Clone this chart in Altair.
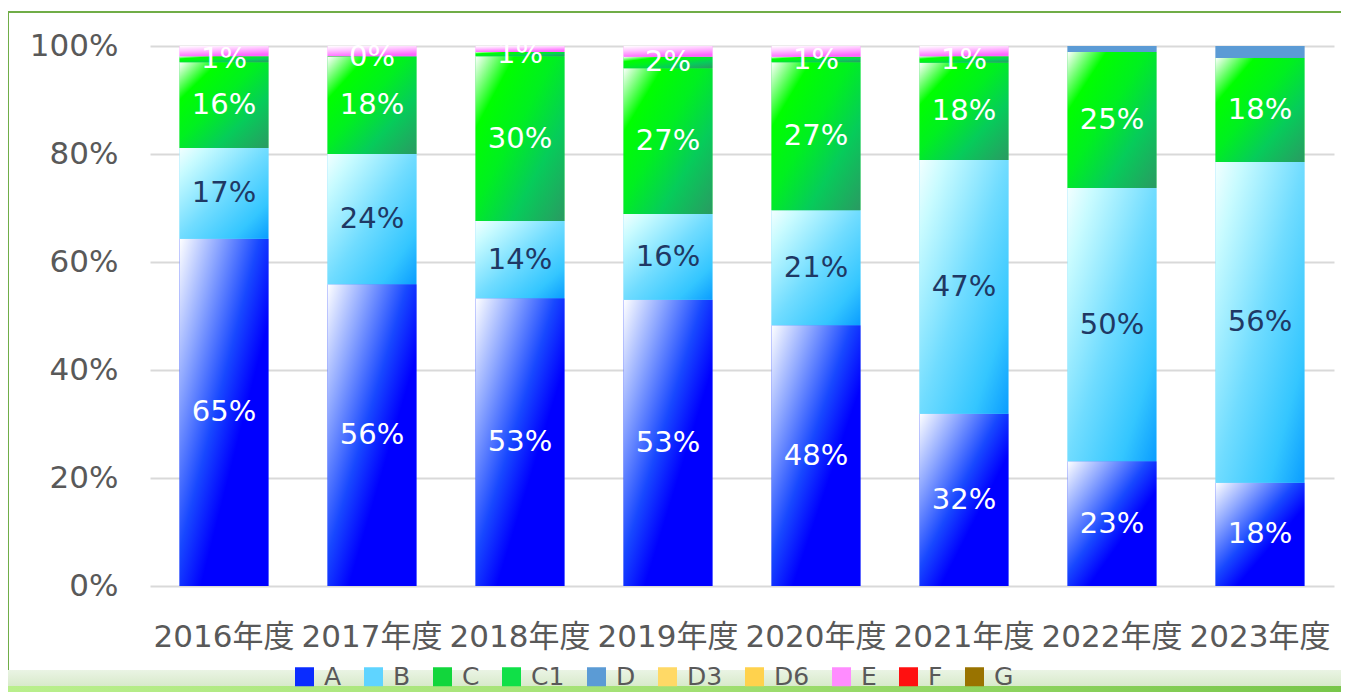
import altair as alt
import pandas as pd

years = ["2016年度", "2017年度", "2018年度", "2019年度", "2020年度", "2021年度", "2022年度", "2023年度"]
series = ["A", "B", "C", "C1", "D", "D3", "D6", "E", "F", "G"]

val_A = [64.3, 55.9, 53.3, 53.0, 48.3, 31.9, 23.1, 19.1]
val_B = [16.8, 24.1, 14.3, 15.9, 21.3, 47.0, 50.6, 59.4]
val_C = [15.9, 18.0, 30.5, 27.0, 27.4, 18.0, 25.2, 19.3]
val_C1 = [1.1, 0.1, 0.8, 2.1, 1.0, 1.2, 0.0, 0.0]
val_D = [0.0, 0.0, 0.0, 0.0, 0.0, 0.0, 1.1, 2.2]
val_D3 = [0.0] * 8
val_D6 = [0.0] * 8
val_E = [1.9, 1.9, 1.1, 2.0, 2.0, 1.9, 0.0, 0.0]
val_F = [0.0] * 8
val_G = [0.0] * 8

lab_A = ["65%", "56%", "53%", "53%", "48%", "32%", "23%", "18%"]
lab_B = ["17%", "24%", "14%", "16%", "21%", "47%", "50%", "56%"]
lab_C = ["16%", "18%", "30%", "27%", "27%", "18%", "25%", "18%"]
lab_C1 = ["1%", "0%", "1%", "2%", "1%", "1%", "", ""]
empty = [""] * 8

values = [val_A, val_B, val_C, val_C1, val_D, val_D3, val_D6, val_E, val_F, val_G]
labels = [lab_A, lab_B, lab_C, lab_C1, empty, empty, empty, empty, empty, empty]

rows = []
for si, s in enumerate(series):
    for yi, yr in enumerate(years):
        rows.append({"year": yr, "series": s, "order": si,
                     "value": values[si][yi], "label": labels[si][yi]})
df = pd.DataFrame(rows)

FONT = "DejaVu Sans, 'Noto Sans CJK JP', sans-serif"
legend_colors = ["#0a2cff", "#5fd4ff", "#12d63c", "#10e048", "#5b9bd5",
                 "#ffd966", "#ffd24d", "#ff8cff", "#ff1010", "#997300"]


def grad(stops, x2=1, y2=1):
    return alt.Gradient(
        gradient="linear",
        stops=[alt.GradientStop(offset=o, color=c) for o, c in stops],
        x1=0, y1=0, x2=x2, y2=y2,
    )


gradients = {
    "A": grad([(0, "#ffffff"), (0.22, "#8fa8ff"), (0.45, "#1848ff"), (0.62, "#0000ff"), (1, "#0000ff")]),
    "B": grad([(0, "#f2ffff"), (0.15, "#c8fbff"), (0.5, "#70dcff"), (0.8, "#34c6ff"), (1, "#0a9cff")]),
    "C": grad([(0, "#ffffff"), (0.22, "#00ff00"), (0.45, "#00f020"), (0.7, "#06cc5a"), (1, "#2a9a62")]),
    "C1": grad([(0, "#ffffff"), (0.22, "#00ff00"), (0.45, "#00f020"), (0.7, "#06cc5a"), (1, "#2a9a62")]),
    "D": grad([(0, "#5b9bd5"), (1, "#5b9bd5")]),
    "E": grad([(0, "#ffffff"), (0.4, "#ffc8ff"), (1, "#ff66ff")], x2=0.3, y2=1),
}

x_enc = alt.X(
    "year:N", sort=years, title=None,
    scale=alt.Scale(paddingInner=0.4, paddingOuter=0.2),
    axis=alt.Axis(labelAngle=0, labelFontSize=31, labelFont=FONT, labelColor="#595959",
                  ticks=False, domain=False, labelPadding=36, grid=False),
)
y_axis = alt.Axis(values=[0, 0.2, 0.4, 0.6, 0.8, 1.0], format=".0%", labelFontSize=31,
                  labelFont=FONT, labelColor="#595959", ticks=False, domain=False,
                  labelPadding=32, gridColor="#d9d9d9", gridWidth=2, title=None)

base = alt.Chart(df).transform_stack(
    stack="value", groupby=["year"], as_=["y0", "y1"],
    sort=[alt.SortField("order", "ascending")], offset="normalize",
)

solid = base.mark_bar().encode(
    x=x_enc,
    y=alt.Y("y0:Q", scale=alt.Scale(domain=[0, 1]), axis=y_axis),
    y2="y1:Q",
    color=alt.Color(
        "series:N",
        scale=alt.Scale(domain=series, range=legend_colors),
        legend=alt.Legend(
            orient="none", legendX=142, legendY=618, direction="horizontal",
            title=None, symbolType="square", symbolSize=361, symbolStrokeWidth=0,
            symbolOpacity=1, labelFontSize=25, labelFont=FONT, labelColor="#595959",
            labelOffset=7, columnPadding=19, labelLimit=200, padding=0,
        ),
    ),
)

grad_layers = []
for s, g in gradients.items():
    grad_layers.append(
        base.transform_filter(alt.datum.series == s)
        .transform_filter(alt.datum.value > 0)
        .mark_bar(color=g)
        .encode(x=alt.X("year:N", sort=years), y="y0:Q", y2="y1:Q")
    )

text = (
    base.transform_filter(alt.datum.label != "")
    .transform_calculate(mid="(datum.y0 + datum.y1) / 2")
    .mark_text(fontSize=29, font=FONT, baseline="middle")
    .encode(
        x=alt.X("year:N", sort=years),
        y="mid:Q",
        text="label:N",
        color=alt.condition(alt.datum.series == "B", alt.value("#1f3864"), alt.value("#ffffff")),
    )
)

one = pd.DataFrame({"k": [0]})
band_top = alt.Chart(one).mark_rect(
    color=grad([(0, "#eaf4e4"), (1, "#d8eacb")], x2=0, y2=1)
).encode(x=alt.value(-142), x2=alt.value(1191), y=alt.value(624), y2=alt.value(640))
band_bot = alt.Chart(one).mark_rect(
    color=grad([(0, "#b9ef8c"), (0.5, "#a2e073"), (1, "#78c64a")], x2=1, y2=0)
).encode(x=alt.value(-142), x2=alt.value(1191), y=alt.value(640), y2=alt.value(646))
border_top = alt.Chart(one).mark_rule(color="#70ad47", strokeWidth=2).encode(
    x=alt.value(-142), x2=alt.value(1191), y=alt.value(-34))
border_left = alt.Chart(one).mark_rule(color="#70ad47", strokeWidth=2).encode(
    x=alt.value(-142), y=alt.value(-35), y2=alt.value(624))

chart = alt.layer(
    band_top, band_bot, solid, *grad_layers, text, border_top, border_left
).properties(
    width=1184, height=540,
    padding={"left": 142, "top": 38, "right": 7, "bottom": 106},
    autosize=alt.AutoSizeParams(type="none"),
    background="#ffffff",
).configure_view(stroke=None)

chart.save("out.html", embed_options={"renderer": "svg", "actions": False})
